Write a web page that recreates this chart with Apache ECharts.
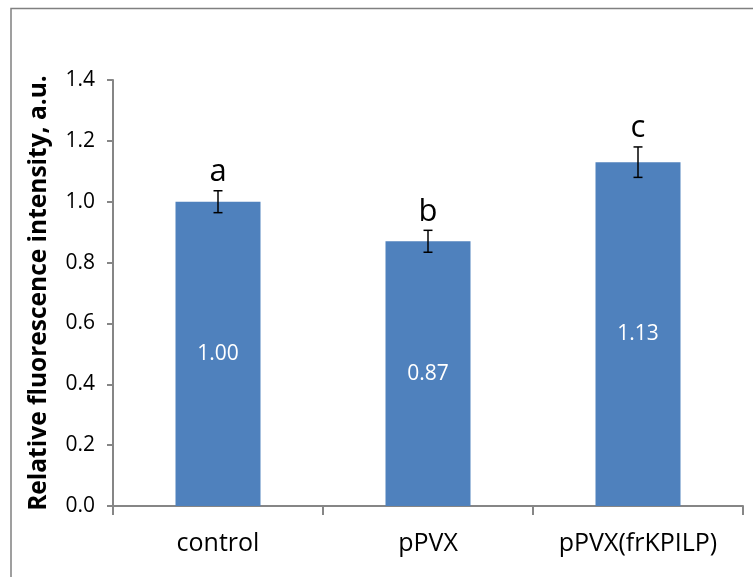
<!DOCTYPE html>
<html>
<head>
<meta charset="utf-8">
<title>Relative fluorescence intensity</title>
<script src="https://cdn.jsdelivr.net/npm/echarts@6/dist/echarts.min.js"></script>
<style>
  html, body { margin: 0; padding: 0; background: #fff; }
  #chart { width: 753px; height: 577px; }
</style>
</head>
<body>
<div id="chart"></div>
<script>
// data
const categories = ['control', 'pPVX', 'pPVX(frKPILP)']
const values = [1.00, 0.87, 1.13]
const errors = [0.036, 0.036, 0.05]
const letters = ['a', 'b', 'c']
const yMin = 0
const yMax = 1.4
const yStep = 0.2

const FONT = '"Open Sans", "DejaVu Sans", sans-serif'
const chart = echarts.init(document.getElementById('chart'), null, { renderer: 'canvas' })

// error bar + significance letter on top
function renderErr(params, api) {
  const i = api.value(0)
  const v = api.value(1)
  const e = api.value(2)
  const top = api.coord([i, v + e])
  const bot = api.coord([i, v - e])
  const cap = 4.5
  const style = { stroke: '#000', lineWidth: 1.5 }
  return {
    type: 'group',
    children: [
      { type: 'line', shape: { x1: top[0], y1: top[1], x2: bot[0], y2: bot[1] }, style },
      { type: 'line', shape: { x1: top[0] - cap, y1: top[1], x2: top[0] + cap, y2: top[1] }, style },
      { type: 'line', shape: { x1: bot[0] - cap, y1: bot[1], x2: bot[0] + cap, y2: bot[1] }, style },
      {
        type: 'text',
        x: top[0],
        y: top[1] - 3,
        style: {
          text: letters[params.dataIndex],
          fill: '#000',
          font: '31px ' + FONT,
          align: 'center',
          verticalAlign: 'bottom',
        },
      },
    ],
  }
}

chart.setOption({
  animation: false,
  grid: { left: 113, right: 10, top: 80, bottom: 71 },
  graphic: [
    {
      type: 'rect',
      shape: { x: 11, y: 8.5, width: 900, height: 900 },
      style: { fill: 'none', stroke: '#808080', lineWidth: 1.5 },
      silent: true,
    },
  ],
  xAxis: {
    type: 'category',
    data: categories,
    axisLine: { lineStyle: { color: '#868686', width: 2 } },
    axisTick: { show: true, length: 9, lineStyle: { color: '#868686', width: 2 } },
    axisLabel: {
      color: '#000',
      fontSize: 25,
      fontFamily: FONT,
      margin: 25,
      interval: 0,
      hideOverlap: false,
    },
  },
  yAxis: {
    type: 'value',
    min: yMin,
    max: yMax,
    interval: yStep,
    name: 'Relative fluorescence intensity, a.u.',
    nameLocation: 'middle',
    nameGap: 61,
    nameTextStyle: { color: '#000', fontSize: 24.5, fontWeight: 'bold', fontFamily: FONT },
    splitLine: { show: false },
    axisLine: { show: true, lineStyle: { color: '#868686', width: 2 } },
    axisTick: { show: true, length: 6, lineStyle: { color: '#868686', width: 2 } },
    axisLabel: {
      color: '#000',
      fontSize: 21,
      fontFamily: FONT,
      margin: 18,
      formatter: v => v.toFixed(1),
    },
  },
  series: [
    {
      type: 'bar',
      data: values,
      barWidth: 85,
      itemStyle: { color: '#4F81BD' },
      label: {
        show: true,
        position: 'inside',
        color: '#fff',
        fontSize: 21,
        fontFamily: FONT,
        formatter: p => p.value.toFixed(2),
      },
    },
    {
      type: 'custom',
      renderItem: renderErr,
      data: values.map((v, i) => [i, v, errors[i]]),
      z: 5,
    },
  ],
})
</script>
</body>
</html>
